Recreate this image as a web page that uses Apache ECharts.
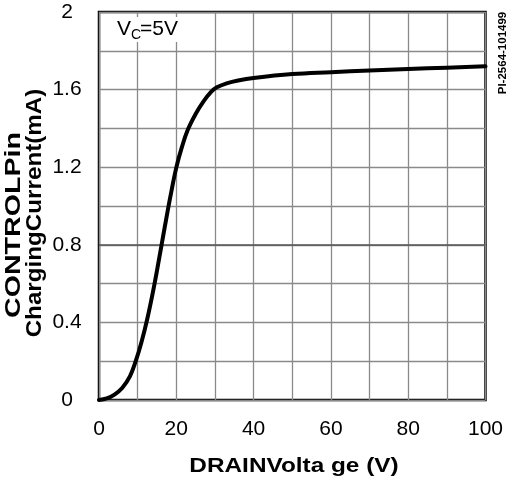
<!DOCTYPE html>
<html>
<head>
<meta charset="utf-8">
<script src="https://cdn.jsdelivr.net/npm/echarts@6/dist/echarts.min.js"></script>
<style>html,body{margin:0;padding:0;background:#fff}#c{width:506px;height:479px}</style>
</head>
<body>
<div id="c"></div>
<script>
const drainVoltage = [0, 2, 4, 6, 8, 9.5, 11, 12.5, 14, 15.5, 17, 18.5, 20, 21.5, 23, 25, 27, 29, 30.5, 33, 36, 40, 50, 60, 70, 80, 90, 100];
const chargingCurrent = [0, 0.008, 0.028, 0.062, 0.122, 0.2, 0.299, 0.419, 0.561, 0.722, 0.89, 1.052, 1.198, 1.307, 1.394, 1.474, 1.538, 1.588, 1.612, 1.632, 1.647, 1.66, 1.68, 1.69, 1.699, 1.706, 1.713, 1.72];
const xTickLabels = ['0', '20', '40', '60', '80', '100'];
const yTickLabels = ['0', '0.4', '0.8', '1.2', '1.6', '2'];
const xTitle = 'DRAINVolta ge (V)';
const yTitle1 = 'CONTROLPin';
const yTitle2 = 'ChargingCurrent(mA)';
const annotation = ['V', 'C', '=5V'];
const partId = 'PI-2564-101499';

const FONT = '"Liberation Sans", Arial, Helvetica, sans-serif';
const chart = echarts.init(document.getElementById('c'), null, {renderer: 'canvas'});
const pts = drainVoltage.map((x, i) => [x, chargingCurrent[i]]);
function fmt(labels) {
  return function (v) {
    const s = String(Math.round(v * 1000) / 1000);
    return labels.indexOf(s) >= 0 ? s : '';
  };
}
chart.setOption({
  animation: false,
  backgroundColor: '#fff',
  grid: {left: 99, top: 12, width: 390, height: 388, show: true, borderColor: '#000', borderWidth: 2.5, backgroundColor: 'transparent'},
  xAxis: {
    type: 'value', min: 0, max: 100, interval: 10,
    axisLine: {show: false}, axisTick: {show: false},
    splitLine: {show: true, lineStyle: {color: '#8a8a8a', width: 1.3}},
    axisLabel: {formatter: fmt(xTickLabels), fontFamily: FONT, fontSize: 21, color: '#000', margin: 19, showMinLabel: true, showMaxLabel: true}
  },
  yAxis: {
    type: 'value', min: 0, max: 2, interval: 0.2,
    axisLine: {show: false}, axisTick: {show: false},
    splitLine: {show: true, lineStyle: {color: '#8a8a8a', width: 1.3}},
    axisLabel: {formatter: fmt(yTickLabels), fontFamily: FONT, fontSize: 21, color: '#000', margin: 32, align: 'center'}
  },
  series: [{
    type: 'line', data: pts, smooth: 0.4, showSymbol: false, symbol: 'none',
    lineStyle: {color: '#000', width: 4, join: 'round', cap: 'round'}, z: 5, clip: false,
    markLine: {silent: true, symbol: 'none', label: {show: false},
      lineStyle: {color: '#555', width: 1.5, type: 'solid'},
      data: [{yAxis: 0.8}]}
  }],
  graphic: [
    {type: 'rect', z: 100, shape: {x: 108, y: 17, width: 78, height: 25}, style: {fill: '#fff'}},
    {type: 'text', z: 101, x: 117, y: 29, style: {text: annotation[0], font: '21px ' + FONT, fill: '#000', verticalAlign: 'middle'}},
    {type: 'text', z: 101, x: 131, y: 35, style: {text: annotation[1], font: '14px ' + FONT, fill: '#000', verticalAlign: 'middle'}},
    {type: 'text', z: 101, x: 140, y: 29, style: {text: annotation[2], font: '21px ' + FONT, fill: '#000', verticalAlign: 'middle'}},
    {type: 'text', z: 101, x: 294, y: 466, scaleX: 1.16, style: {text: xTitle, font: 'bold 21px ' + FONT, fill: '#000', align: 'center', verticalAlign: 'middle'}},
    {type: 'text', z: 101, x: 14, y: 225, rotation: Math.PI / 2, scaleX: 1.3, style: {text: yTitle1, font: 'bold 22px ' + FONT, fill: '#000', align: 'center', verticalAlign: 'middle'}},
    {type: 'text', z: 101, x: 35, y: 213, rotation: Math.PI / 2, scaleX: 1.1, style: {text: yTitle2, font: 'bold 22px ' + FONT, fill: '#000', align: 'center', verticalAlign: 'middle'}},
    {type: 'text', z: 101, x: 503, y: 53, rotation: Math.PI / 2, style: {text: partId, font: 'bold 11.5px ' + FONT, fill: '#000', align: 'center', verticalAlign: 'middle'}}
  ]
});
</script>
</body>
</html>
